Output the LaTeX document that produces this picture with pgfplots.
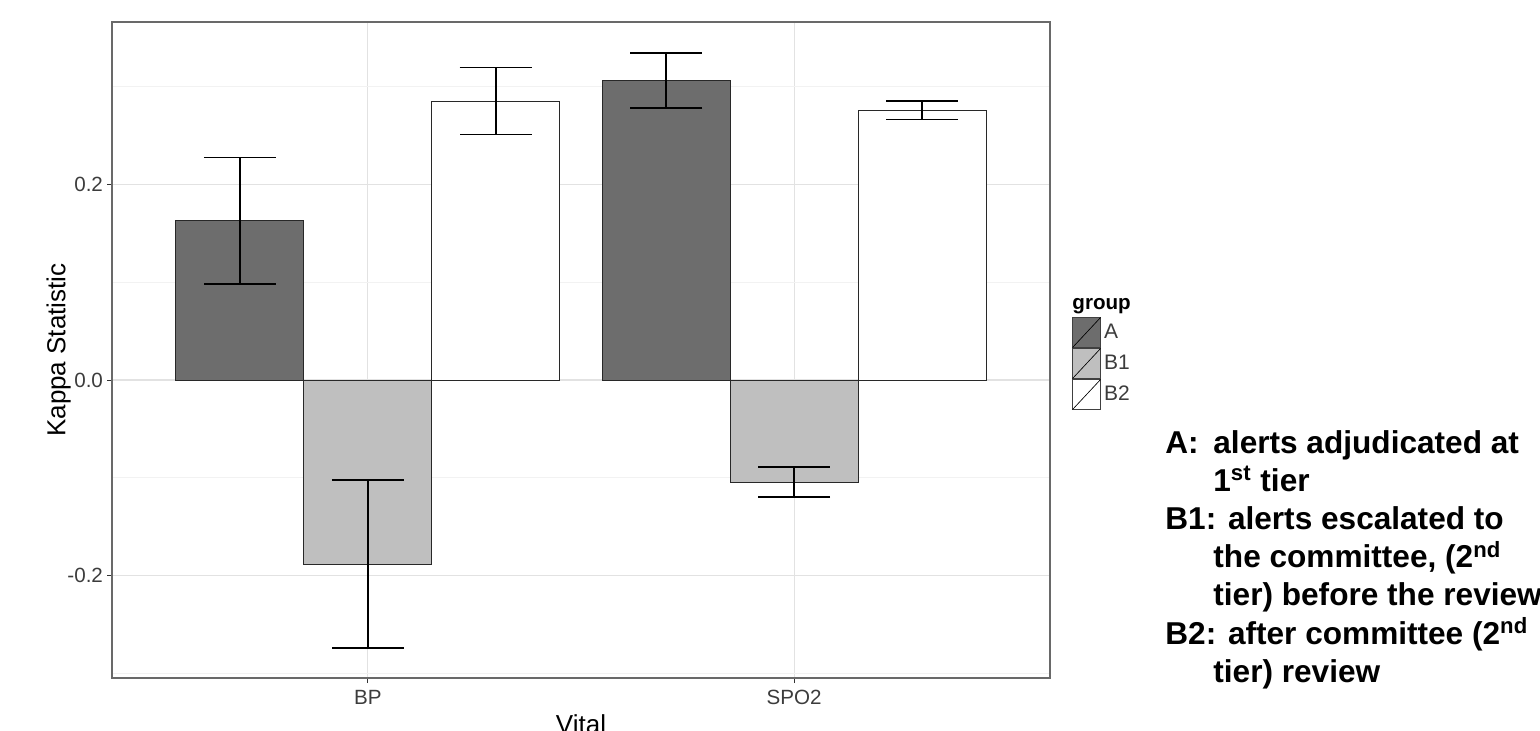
\documentclass[border=0pt]{standalone}
\usepackage{pgfplots}
\pgfplotsset{compat=1.18}
\usepackage{fontspec}
\setmainfont{Liberation Sans}
\definecolor{cA}{RGB}{109,109,109}
\definecolor{cB1}{RGB}{191,191,191}
\definecolor{gridmaj}{RGB}{226,226,226}
\definecolor{gridmin}{RGB}{242,242,242}
\definecolor{framec}{RGB}{105,105,105}
\definecolor{ticktext}{RGB}{60,60,60}
\definecolor{barline}{RGB}{40,40,40}
\begin{document}
\begin{tikzpicture}
\useasboundingbox (0,0) rectangle (770pt,365pt);
\begin{axis}[
  at={(56pt,26pt)}, anchor=south west,
  scale only axis, width=469pt, height=328pt,
  xmin=0.4, xmax=2.6, ymin=-0.3044, ymax=0.3657,
  xtick={1,2}, xticklabels={BP,SPO2},
  ytick={-0.2,0,0.2}, yticklabels={-0.2,0.0,0.2},
  minor ytick={-0.3,-0.1,0.1,0.3},
  grid=both,
  major grid style={gridmaj, line width=0.55pt},
  minor grid style={gridmin, line width=0.45pt},
  tick align=outside, major tick length=2.5pt, minor tick length=0pt,
  xtick pos=left, ytick pos=left,
  tick style={black!80, line width=0.5pt},
  axis line style={framec, line width=0.6pt},
  ticklabel style={font=\fontsize{10.3}{12}\selectfont, text=ticktext},
  yticklabel style={xshift=1.5pt},
  xlabel={Vital}, ylabel={Kappa Statistic},
  label style={font=\fontsize{13}{15}\selectfont},
  xlabel style={yshift=2pt},
  ylabel style={yshift=-8.5pt},
  clip=false,
  legend style={at={(rel axis cs:1.0235,0.5503)}, anchor=north west,
    draw=none, fill=none, inner sep=0pt, outer sep=0pt,
    row sep=0pt, column sep=1.5pt,
    nodes={inner sep=0pt, font=\fontsize{10.5}{12}\selectfont, text=ticktext}},
  legend cell align=left,
]
\addplot[ybar, bar width=0.3, bar shift=0pt, fill=cA, draw=barline, line width=0.5pt,
  legend image code/.code={\draw[fill=cA, draw=black!75, line width=0.5pt] (0pt,-7.5pt) rectangle (14pt,7.5pt); \draw[black, line width=0.3pt] (0pt,-7.5pt) -- (14pt,7.5pt);},
  error bars/.cd, y dir=both, y explicit,
  error bar style={black, line width=0.8pt},
  error mark options={black, rotate=90, mark size=18pt, line width=0.8pt}]
  coordinates {(0.7,0.1626) +- (0,0.0647) (1.7,0.3061) +- (0,0.0280)};
\addlegendentry{A}
\addplot[ybar, bar width=0.3, bar shift=0pt, fill=cB1, draw=barline, line width=0.5pt,
  legend image code/.code={\draw[fill=cB1, draw=black!75, line width=0.5pt] (0pt,-7.5pt) rectangle (14pt,7.5pt); \draw[black, line width=0.3pt] (0pt,-7.5pt) -- (14pt,7.5pt);},
  error bars/.cd, y dir=both, y explicit,
  error bar style={black, line width=0.8pt},
  error mark options={black, rotate=90, mark size=18pt, line width=0.8pt}]
  coordinates {(1.0,-0.1881) +- (0,0.0859) (2.0,-0.1044) +- (0,0.0153)};
\addlegendentry{B1}
\addplot[ybar, bar width=0.3, bar shift=0pt, fill=white, draw=barline, line width=0.5pt,
  legend image code/.code={\draw[fill=white, draw=black!75, line width=0.5pt] (0pt,-7.5pt) rectangle (14pt,7.5pt); \draw[black, line width=0.3pt] (0pt,-7.5pt) -- (14pt,7.5pt);},
  error bars/.cd, y dir=both, y explicit,
  error bar style={black, line width=0.8pt},
  error mark options={black, rotate=90, mark size=18pt, line width=0.8pt}]
  coordinates {(1.3,0.2850) +- (0,0.0342) (2.3,0.2755) +- (0,0.0094)};
\addlegendentry{B2}
\end{axis}
\node[anchor=base west, inner sep=0pt, font=\fontsize{10.3}{12}\selectfont\bfseries] at (536pt,210.5pt) {group};
\begin{scope}[every node/.style={anchor=base west, inner sep=0pt, font=\fontsize{15.8}{19}\selectfont\bfseries}]
\node at (582.5pt,138.5pt) {A:};
\node at (606.5pt,138.5pt) {alerts adjudicated at};
\node at (606.5pt,119.4pt) {1\textsuperscript{st} tier};
\node at (582.5pt,100.3pt) {B1: alerts escalated to};
\node at (606.5pt,81.2pt) {the committee, (2\textsuperscript{nd}};
\node at (606.5pt,62.1pt) {tier) before the review};
\node at (582.5pt,43.0pt) {B2: after committee (2\textsuperscript{nd}};
\node at (606.5pt,23.9pt) {tier) review};
\end{scope}
\end{tikzpicture}
\end{document}
